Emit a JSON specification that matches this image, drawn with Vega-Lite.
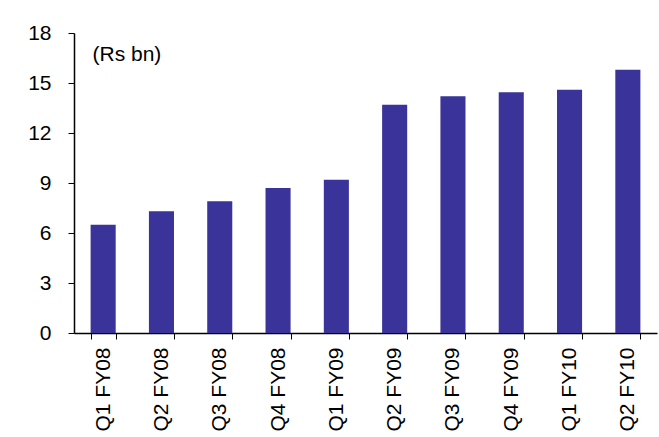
{
  "$schema": "https://vega.github.io/schema/vega-lite/v6.json",
  "width": 583,
  "height": 300,
  "autosize": {"type": "none"},
  "padding": {"left": 74, "top": 33, "right": 2, "bottom": 104},
  "background": "white",
  "config": {
    "view": {"stroke": null},
    "font": "Liberation Sans",
    "axis": {"labelFont": "Liberation Sans", "titleFont": "Liberation Sans", "labelColor": "black", "domainColor": "black", "tickColor": "black", "grid": false}
  },
  "data": {
    "values": [
      {"quarter": "Q1 FY08", "value": 6.5},
      {"quarter": "Q2 FY08", "value": 7.3},
      {"quarter": "Q3 FY08", "value": 7.9},
      {"quarter": "Q4 FY08", "value": 8.7},
      {"quarter": "Q1 FY09", "value": 9.2},
      {"quarter": "Q2 FY09", "value": 13.7},
      {"quarter": "Q3 FY09", "value": 14.2},
      {"quarter": "Q4 FY09", "value": 14.45},
      {"quarter": "Q1 FY10", "value": 14.6},
      {"quarter": "Q2 FY10", "value": 15.8}
    ]
  },
  "mark": {"type": "bar", "color": "#3A3399"},
  "encoding": {
    "x": {
      "field": "quarter",
      "type": "nominal",
      "sort": null,
      "scale": {"paddingInner": 0.57, "paddingOuter": 0.285},
      "axis": {
        "title": null,
        "labelAngle": -90,
        "labelFontSize": 21,
        "labelPadding": 8,
        "tickBand": "extent",
        "tickSize": 6,
        "domainWidth": 1.5,
        "tickWidth": 1
      }
    },
    "y": {
      "field": "value",
      "type": "quantitative",
      "scale": {"domain": [0, 18], "nice": false},
      "axis": {
        "values": [0, 3, 6, 9, 12, 15, 18],
        "labelFontSize": 21,
        "labelPadding": 17,
        "tickSize": 6,
        "domainWidth": 1.5,
        "title": "(Rs bn)",
        "titleAngle": 0,
        "titleAlign": "left",
        "titleBaseline": "top",
        "titleX": 18,
        "titleY": 10,
        "titleFontSize": 21,
        "titleFontWeight": "normal",
        "titleColor": "black"
      }
    }
  }
}
